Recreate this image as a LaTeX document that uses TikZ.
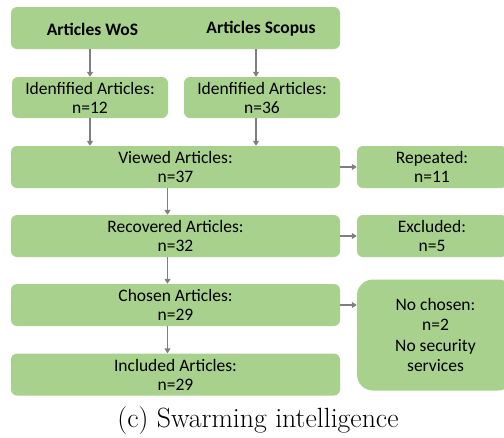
\documentclass[tikz,border=0pt]{standalone}
\usepackage{fontspec}
\setmainfont{Carlito}
\newfontfamily\capfont{Latin Modern Roman}
\usetikzlibrary{arrows.meta,calc}
\definecolor{boxgreen}{HTML}{A9D18E}
\definecolor{arrowgray}{HTML}{7F7F7F}
\tikzset{
  boxfont/.style={font=\fontsize{17.5}{19}\selectfont},
  stepbox/.style={fill=boxgreen, draw=none, rounded corners=6pt, align=center,
    boxfont, inner sep=0pt},
  wide/.style={stepbox, minimum width=329pt, minimum height=42pt},
  half/.style={stepbox, minimum width=156pt, minimum height=41pt},
  side/.style={stepbox, minimum width=150pt, minimum height=42pt},
  arr/.style={draw=arrowgray, line width=1.8pt, -{Triangle[length=5pt,width=6pt]}},
}
\begin{document}
\begin{tikzpicture}[x=1pt, y=-1pt]
  \useasboundingbox (0,0) rectangle (504,437);
  % sources
  \node[wide] (src) at (175.5,28) {};
  \node[boxfont, font=\fontsize{17.5}{19}\selectfont\bfseries] (wos) at (92.5,29) {Articles WoS};
  \node[boxfont, font=\fontsize{17.5}{19}\selectfont\bfseries] (scopus) at (261,29) {Articles Scopus};
  % identified
  \node[half] (id1) at (90,97.5) {Idenfified Articles:\\n=12};
  \node[half] (id2) at (262,97.5) {Idenfified Articles:\\n=36};
  % main flow
  \node[wide] (viewed) at (175.5,167) {Viewed Articles:\\n=37};
  \node[wide] (recovered) at (175.5,236) {Recovered Articles:\\n=32};
  \node[wide] (chosen) at (175.5,305) {Chosen Articles:\\n=29};
  \node[wide] (included) at (175.5,374.5) {Included Articles:\\n=29};
  % side boxes
  \node[side] (repeated) at (432,167) {Repeated:\\n=11};
  \node[side] (excluded) at (432,236) {Excluded:\\n=5};
  \node[stepbox, minimum width=157pt, minimum height=111pt, rounded corners=16pt,
        font=\fontsize{17.5}{20.6}\selectfont] (nochosen) at (435.5,335)
        {No chosen:\\n=2\\No security\\services};
  % connectors
  \draw[arr] (src.south -| id1.south) -- (id1.north);
  \draw[arr] ([xshift=-6pt]src.south -| id2.south) -- ([xshift=-6pt]id2.north);
  \draw[arr] (id1.south) -- (id1.south |- viewed.north);
  \draw[arr] ([xshift=-6pt]id2.south) -- ([xshift=-6pt]id2.south |- viewed.north);
  \draw[arr] ([xshift=-8pt]viewed.south) -- ([xshift=-8pt]recovered.north);
  \draw[arr] ([xshift=-8pt]recovered.south) -- ([xshift=-8pt]chosen.north);
  \draw[arr] ([xshift=-8pt]chosen.south) -- ([xshift=-8pt]included.north);
  \draw[arr] (viewed.east) -- (repeated.west);
  \draw[arr] (recovered.east) -- (excluded.west);
  \draw[arr] (chosen.east) -- (chosen.east -| nochosen.west);
  % caption
  \node[font=\capfont\fontsize{27.8}{32}\selectfont] (caption) at (258,421) {(c) Swarming intelligence};
\end{tikzpicture}
\end{document}
